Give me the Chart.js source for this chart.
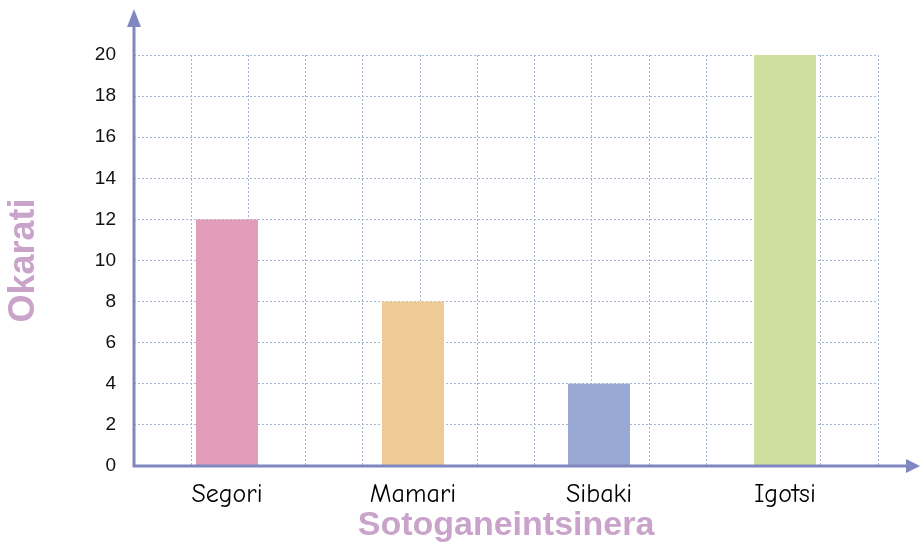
<!DOCTYPE html>
<html>
<head>
<meta charset="utf-8">
<script src="https://cdn.jsdelivr.net/npm/chart.js@4"></script>
<style>
  html, body { margin: 0; padding: 0; background: #fff; }
  #wrap { width: 920px; height: 548px; }
</style>
</head>
<body>
<div id="wrap"><canvas id="chart" width="920" height="548"></canvas></div>
<script>
// Data
const labels = ['Segori', 'Mamari', 'Sibaki', 'Igotsi'];
const counts = [12, 8, 4, 20];
const barColors = ['#e09cb8', '#eecb94', '#9aa9d3', '#cfdf9d'];
const yTicks = [0, 2, 4, 6, 8, 10, 12, 14, 16, 18, 20];

const AXIS = '#8088c2';
const GRID = '#a3b8cf';
const TITLE = '#c9a3c9';

// Axis lines with arrow heads, drawn over grid and bars
const arrowAxes = {
  id: 'arrowAxes',
  afterDatasetsDraw(chart) {
    const {ctx, chartArea: a} = chart;
    ctx.save();
    ctx.strokeStyle = AXIS;
    ctx.fillStyle = AXIS;
    ctx.lineWidth = 3;
    ctx.beginPath();
    ctx.moveTo(a.left, a.bottom);
    ctx.lineTo(a.left, 26);
    ctx.moveTo(a.left - 1.5, a.bottom);
    ctx.lineTo(906, a.bottom);
    ctx.stroke();
    // up arrow
    ctx.beginPath();
    ctx.moveTo(a.left, 9);
    ctx.lineTo(a.left - 7, 27);
    ctx.lineTo(a.left + 7, 27);
    ctx.closePath();
    ctx.fill();
    // right arrow
    ctx.beginPath();
    ctx.moveTo(920, a.bottom);
    ctx.lineTo(906, a.bottom - 7);
    ctx.lineTo(906, a.bottom + 7);
    ctx.closePath();
    ctx.fill();
    ctx.restore();
  }
};

new Chart(document.getElementById('chart').getContext('2d'), {
  type: 'bar',
  data: {
    labels: labels,
    datasets: [{
      data: counts,
      backgroundColor: barColors,
      borderWidth: 0,
      categoryPercentage: 1,
      barPercentage: 1 / 3,
    }],
  },
  options: {
    responsive: false, animation: false,
    layout: {padding: {left: 0, right: 42, top: 55, bottom: 0}},
    plugins: {legend: {display: false}, tooltip: {enabled: false}},
    scales: {
      x: {
        grid: {display: false},
        border: {display: false},
        ticks: {
          color: '#000', padding: 5,
          font: {family: '"Comic Sans MS", "Comic Neue", "DejaVu Sans"', size: 26, weight: '500'},
        },
        title: {
          display: true, text: 'Sotoganeintsinera', color: TITLE,
          font: {family: '"Liberation Sans", Arial', size: 34, weight: 'bold'},
          padding: {top: 0, bottom: 2},
        },
        afterFit(s) { s.height = 82; },
      },
      // vertical dotted grid, three lines per category
      g: {
        type: 'linear', axis: 'x', position: 'bottom',
        min: 0, max: 12,
        ticks: {stepSize: 1, display: false},
        border: {display: false, dash: [2, 2]},
        grid: {color: GRID, lineWidth: 1, drawTicks: false},
        afterFit(s) { s.height = 0; },
      },
      y: {
        min: 0, max: 20,
        afterBuildTicks(s) { s.ticks = yTicks.map(v => ({value: v})); },
        border: {display: false, dash: [2, 2]},
        grid: {color: GRID, lineWidth: 1, drawTicks: false},
        ticks: {
          color: '#111', padding: 18,
          font: {family: '"Liberation Sans", Arial', size: 19},
        },
        title: {
          display: true, text: 'Okarati', color: TITLE,
          font: {family: '"Liberation Sans", Arial', size: 36, weight: 'bold'},
          padding: {top: 2, bottom: 0},
        },
        afterFit(s) { s.width = 134; },
      },
    },
  },
  plugins: [arrowAxes],
});
</script>
</body>
</html>
